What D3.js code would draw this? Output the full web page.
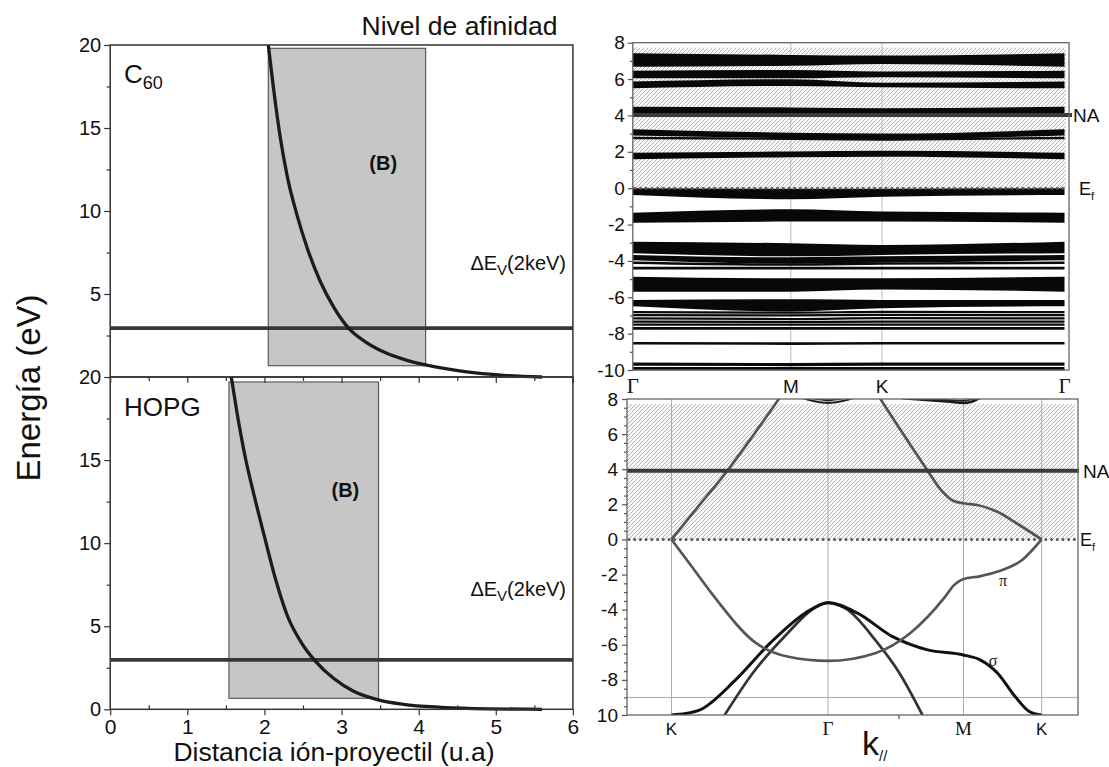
<!DOCTYPE html>
<html><head><meta charset="utf-8">
<script src="https://cdn.jsdelivr.net/npm/d3@7"></script>
<style>body{margin:0;background:#fff}svg{display:block}</style>
</head><body><svg id="c" width="1109" height="767"></svg>
<script>
// ---------------- DATA ----------------
// Left panels: distance (u.a) vs energy (eV)
const distTicks = [0,1,2,3,4,5,6];
const distMinor = [0.5,1.5,2.5,3.5,4.5,5.5];
const energyTicksTop = [5,10,15,20];
const energyTicksBottom = [0,5,10,15,20];
const energyMinor = [2.5,7.5,12.5,17.5];
const c60CurveX = [2.05,2.12,2.2,2.3,2.42,2.56,2.72,2.9,3.1,3.3,3.55,3.85,4.2,4.6,5.1,5.6];
const c60CurveE = [20,17.3,14.6,12.0,9.8,7.7,5.8,4.2,2.9,2.15,1.5,1.0,0.62,0.32,0.1,0.0];
const hopgCurveX = [1.57,1.65,1.75,1.87,2.0,2.14,2.3,2.48,2.66,2.9,3.15,3.45,3.8,4.3,4.9,5.6];
const hopgCurveE = [20,17.7,15.2,12.8,10.4,7.9,5.6,4.0,2.9,1.85,1.1,0.6,0.3,0.12,0.03,0.0];
const c60WindowX = [2.05,4.09], c60WindowE = [0.68,19.8];
const hopgWindowX = [1.54,3.48], hopgWindowE = [0.66,19.7];
const c60DeltaEv = 2.95, hopgDeltaEv = 2.97;

// Top-right: C60 bands along Γ-M-K-Γ
const c60K = [0,1,1.577,2.732];
const c60KLabels = ["Γ","M","K","Γ"];
const c60BandHi = [[7.42,7.33,7.29,7.42],[6.46,6.5,6.42,6.46],[5.86,5.99,5.8,5.86],[4.48,4.44,4.4,4.48],
  [3.24,3.05,3.0,3.24],[1.95,2.01,2.06,1.95],[0.0,-0.03,-0.03,0.0],[-1.35,-1.16,-1.29,-1.35],
  [-2.94,-3.03,-3.12,-2.94],[-3.67,-3.8,-3.75,-3.67],[-4.87,-4.96,-4.96,-4.87],[-6.15,-6.11,-6.15,-6.15]];
const c60BandLo = [[6.68,6.73,6.83,6.68],[6.04,6.04,6.1,6.04],[5.49,5.62,5.55,5.49],[3.93,3.97,4.03,3.93],
  [2.9,2.75,2.7,2.9],[1.59,1.7,1.73,1.59],[-0.37,-0.61,-0.47,-0.37],[-1.9,-1.84,-1.84,-1.9],
  [-3.58,-3.75,-3.67,-3.58],[-3.97,-4.15,-4.1,-3.97],[-5.69,-5.69,-5.57,-5.69],[-6.5,-6.78,-6.6,-6.5]];
const c60Lines = [[2.76,2.72,2.68,2.76],[-4.1,-4.2,-4.15,-4.1],[-4.4,-4.4,-4.4,-4.4],[-6.82,-6.85,-6.8,-6.82],
  [-6.98,-7.0,-6.97,-6.98],[-7.16,-7.2,-7.15,-7.16],[-7.34,-7.36,-7.34,-7.34],[-7.5,-7.5,-7.5,-7.5],
  [-7.71,-7.71,-7.71,-7.71],[-8.53,-8.55,-8.53,-8.53],[-9.68,-9.7,-9.68,-9.68],[-9.92,-9.92,-9.92,-9.92]];
const c60LineWidths = [2.4,2.4,2.6,2.2,2.2,2.2,2.2,2.2,2.8,2.6,3.2,3.2];
const c60NA = 4.03;
const c60HatchTop = 7.73;
const bandTicks = [-10,-8,-6,-4,-2,0,2,4,6,8];
const c60MinorTicks = [-9,-7,-5,-3,-1,1,3,5,7];

// Bottom-right: graphite (HOPG) bands along K-Γ-M-K
const graphK = [-1.155,0,1,1.577];
const graphKLabels = ["K","Γ","M","K"];
const graphTickLabels = ["10","-8","-6","-4","-2","0","2","4","6","8"];
const piStarLeftK = [-1.155,-0.95,-0.742,-0.55,-0.363,-0.3];
const piStarLeftE = [0,1.95,3.92,5.95,8.0,8.7];
const piStarRightK = [0.33,0.387,0.56,0.735,0.83,0.92,1.0,1.1,1.25,1.4,1.577];
const piStarRightE = [8.7,8.0,5.95,3.92,2.85,2.22,2.06,1.96,1.58,0.88,0];
const piK = [-1.155,-1.0,-0.84,-0.53,-0.3,0,0.348,0.606,0.865,0.93,1.0,1.12,1.252,1.433,1.577];
const piE = [0,-1.6,-3.26,-5.91,-6.67,-6.92,-6.48,-5.34,-3.26,-2.6,-2.25,-2.1,-1.83,-1.17,0];
const sigma1K = [-1.155,-1.05,-0.945,-0.686,-0.427,-0.169,0,0.218,0.477,0.735,1.0,1.123,1.252,1.381,1.485,1.577];
const sigma1E = [-10,-9.92,-9.71,-8.03,-5.91,-4.2,-3.6,-4.2,-5.54,-6.29,-6.58,-6.86,-7.62,-8.95,-9.8,-10];
const sigma2K = [-0.763,-0.556,-0.298,-0.117,0,0.141,0.348,0.528,0.697];
const sigma2E = [-10,-7.62,-5.34,-3.99,-3.6,-3.99,-5.72,-7.62,-10];
const upperAK = [-0.2,-0.1,0,0.1,0.2], upperAE = [8.1,7.87,7.78,7.87,8.1];
const upperBK = [-0.12,0,0.12], upperBE = [8.05,7.93,8.05];
const upperCK = [0.55,0.75,0.9,1.0,1.06,1.12], upperCE = [8.05,7.93,7.84,7.78,7.85,8.05];
const upperDK = [0.62,0.85,1.0,1.08], upperDE = [8.05,7.95,7.9,8.05];
const graphNA = 3.92;
const graphHatchTop = 7.72;
const graphGridE = -9;
const graphExtraTick = [0.52];

// ---------------- DRAW ----------------
const FONT = '"Liberation Sans", Arial, Helvetica, sans-serif';
const SERIF = '"Liberation Serif", "Times New Roman", serif';
const svg = d3.select('#c');
svg.append('rect').attr('width',1109).attr('height',767).attr('fill','#fff');
const defs = svg.append('defs');
const pat = defs.append('pattern').attr('id','hatch').attr('patternUnits','userSpaceOnUse').attr('width',4).attr('height',4);
pat.append('rect').attr('width',4).attr('height',4).attr('fill','#fafafa');
pat.append('path').attr('d','M-1,1 L1,-1 M0,4 L4,0 M3,5 L5,3').attr('stroke','#b0b0b0').attr('stroke-width',0.9);

function styleAxis(g, size, color, family){
  g.select('.domain').remove();
  g.attr('color', color||'#333').attr('font-family', family||FONT).attr('font-size', size||19);
  g.selectAll('line').attr('stroke-width',1.2);
  g.selectAll('text').attr('fill','#111');
  return g;
}

// ---- Left panels ----
const xL = d3.scaleLinear().domain([0,6]).range([110.2,572.9]);
const yTop = d3.scaleLinear().domain([0,20]).range([377,45]);
const yBot = d3.scaleLinear().domain([0,20]).range([709.3,377]);

function leftPanel(y, cx, ce, wx, we, dEv, yTicks){
  const g = svg.append('g');
  g.append('rect').attr('x',xL(wx[0])).attr('y',y(we[1])).attr('width',xL(wx[1])-xL(wx[0]))
    .attr('height',y(we[0])-y(we[1])).attr('fill','#c6c6c6').attr('stroke','#5a5a5a').attr('stroke-width',1.2);
  g.append('line').attr('x1',xL(0)).attr('x2',xL(6)).attr('y1',y(dEv)).attr('y2',y(dEv))
    .attr('stroke','#383838').attr('stroke-width',3.8);
  const pts = cx.map((x,i)=>[x,ce[i]]);
  g.append('path').datum(pts).attr('d',d3.line().x(d=>xL(d[0])).y(d=>y(d[1])).curve(d3.curveMonotoneX))
    .attr('fill','none').attr('stroke','#1c1c1c').attr('stroke-width',3.3);
  g.append('rect').attr('x',xL(0)).attr('y',y(20)).attr('width',xL(6)-xL(0)).attr('height',y(0)-y(20))
    .attr('fill','none').attr('stroke','#333').attr('stroke-width',1.5);
  styleAxis(svg.append('g').attr('transform',`translate(${xL(0)},0)`)
    .call(d3.axisLeft(y).tickValues(yTicks).tickSize(6).tickPadding(3).tickFormat(d=>String(d))), 20);
  styleAxis(svg.append('g').attr('transform',`translate(${xL(0)},0)`)
    .call(d3.axisLeft(y).tickValues(energyMinor).tickSize(3.5).tickFormat('')));
}
leftPanel(yTop, c60CurveX, c60CurveE, c60WindowX, c60WindowE, c60DeltaEv, energyTicksTop);
leftPanel(yBot, hopgCurveX, hopgCurveE, hopgWindowX, hopgWindowE, hopgDeltaEv, energyTicksBottom);
// bottom x axis
styleAxis(svg.append('g').attr('transform',`translate(0,${yBot(0)})`)
  .call(d3.axisBottom(xL).tickValues(distTicks).tickSize(6).tickPadding(4).tickFormat(d=>String(d))), 21);
styleAxis(svg.append('g').attr('transform',`translate(0,${yBot(0)})`)
  .call(d3.axisBottom(xL).tickValues(distMinor).tickSize(-4).tickFormat('')));
// mirrored ticks on the shared border
styleAxis(svg.append('g').attr('transform',`translate(0,${yBot(20)})`)
  .call(d3.axisTop(xL).tickValues(distTicks).tickSize(-6).tickFormat('')));
styleAxis(svg.append('g').attr('transform',`translate(0,${yBot(20)})`)
  .call(d3.axisTop(xL).tickValues(distMinor).tickSize(-4).tickFormat('')));

// left panel texts
const c60t = svg.append('text').attr('x',xL(0.18)).attr('y',83).attr('font-family',FONT).attr('font-size',26).attr('fill','#111').text('C');
c60t.append('tspan').attr('font-size',18).attr('dy',6).text('60');
svg.append('text').attr('x',xL(0.18)).attr('y',415.5).attr('font-family',FONT).attr('font-size',26).attr('fill','#111').text('HOPG');
svg.append('text').attr('x',xL(3.54)).attr('y',170).attr('text-anchor','middle').attr('font-family',FONT).attr('font-weight','bold').attr('font-size',20).attr('fill','#111').text('(B)');
svg.append('text').attr('x',xL(3.05)).attr('y',496.5).attr('text-anchor','middle').attr('font-family',FONT).attr('font-weight','bold').attr('font-size',20).attr('fill','#111').text('(B)');
function dEvLabel(yb){
  const t = svg.append('text').attr('x',566).attr('y',yb).attr('text-anchor','end').attr('font-family',FONT).attr('font-size',20).attr('fill','#111').text('ΔE');
  t.append('tspan').attr('font-size',15).attr('dy',5).text('V');
  t.append('tspan').attr('font-size',20).attr('dy',-5).text('(2keV)');
}
dEvLabel(270); dEvLabel(596);
svg.append('text').attr('x',459.5).attr('y',35).attr('text-anchor','middle').attr('font-family',FONT).attr('font-size',26.5).attr('fill','#111').text('Nivel de afinidad');
svg.append('text').attr('transform','translate(40,388) rotate(-90)').attr('text-anchor','middle').attr('font-family',FONT).attr('font-size',33).attr('fill','#111').text('Energía (eV)');
svg.append('text').attr('x',334).attr('y',761).attr('text-anchor','middle').attr('font-family',FONT).attr('font-size',26.5).attr('fill','#111').text('Distancia ión-proyectil (u.a)');

// ---- Top-right panel (C60) ----
const xTR = d3.scaleLinear().domain([0,2.732]).range([632.8,1064.5]);
const yTR = d3.scaleLinear().domain([-10,8]).range([370,42.7]);
const trRight = 1069;
const tr = svg.append('g');
tr.append('rect').attr('x',xTR(0)).attr('y',yTR(c60HatchTop)).attr('width',trRight-3-xTR(0))
  .attr('height',yTR(0)-yTR(c60HatchTop)).attr('fill','url(#hatch)');
[c60K[1],c60K[2]].forEach(k=>tr.append('line').attr('x1',xTR(k)).attr('x2',xTR(k)).attr('y1',yTR(8)).attr('y2',yTR(-10))
  .attr('stroke','#bdbdbd').attr('stroke-width',1));
const bandArea = d3.area().x(d=>xTR(d.k)).y0(d=>yTR(d.lo)).y1(d=>yTR(d.hi)).curve(d3.curveMonotoneX);
c60BandHi.forEach((hi,i)=>{
  const pts = c60K.map((k,j)=>({k:k,hi:hi[j],lo:c60BandLo[i][j]}));
  tr.append('path').datum(pts).attr('d',bandArea).attr('fill','#080808');
});
const bandLine = d3.line().x(d=>xTR(d[0])).y(d=>yTR(d[1])).curve(d3.curveMonotoneX);
c60Lines.forEach((l,i)=>{
  tr.append('path').datum(c60K.map((k,j)=>[k,l[j]])).attr('d',bandLine).attr('fill','none').attr('stroke','#0a0a0a').attr('stroke-width',c60LineWidths[i]);
});
tr.append('line').attr('x1',xTR(0)).attr('x2',trRight+3).attr('y1',yTR(c60NA)).attr('y2',yTR(c60NA))
  .attr('stroke','#3a3a3a').attr('stroke-width',4);
tr.append('line').attr('x1',xTR(0)+2).attr('x2',xTR(2.732)).attr('y1',yTR(0)).attr('y2',yTR(0))
  .attr('stroke','#5a5a5a').attr('stroke-width',3).attr('stroke-linecap','round').attr('stroke-dasharray','0.01 5.7');
tr.append('rect').attr('x',xTR(0)).attr('y',yTR(8)).attr('width',trRight-xTR(0)).attr('height',yTR(-10)-yTR(8))
  .attr('fill','none').attr('stroke','#666').attr('stroke-width',1.3);
styleAxis(svg.append('g').attr('transform',`translate(${xTR(0)},0)`)
  .call(d3.axisLeft(yTR).tickValues(bandTicks).tickSize(5).tickPadding(3).tickFormat(d=>String(d))), 19, '#555');
styleAxis(svg.append('g').attr('transform',`translate(${xTR(0)},0)`)
  .call(d3.axisLeft(yTR).tickValues(c60MinorTicks).tickSize(3).tickFormat('')), 19, '#555');
c60K.forEach((k,i)=>{
  svg.append('text').attr('x',xTR(k)).attr('y',393).attr('text-anchor','middle')
    .attr('font-family',c60KLabels[i]==='Γ'?SERIF:FONT).attr('font-size',c60KLabels[i]==='Γ'?21:19).attr('fill','#111').text(c60KLabels[i]);
});
svg.append('text').attr('x',trRight+4).attr('y',yTR(c60NA)+7).attr('font-family',FONT).attr('font-size',19).attr('fill','#111').text('NA');
const ef1 = svg.append('text').attr('x',trRight+10).attr('y',yTR(0)+7).attr('font-family',FONT).attr('font-size',18).attr('fill','#111').text('E');
ef1.append('tspan').attr('font-size',11).attr('dy',5).text('f');

// ---- Bottom-right panel (graphite) ----
const xBR = d3.scaleLinear().domain([0,1]).range([828,963.5]);
const yBR = d3.scaleLinear().domain([-10,8]).range([715,399]);
const brX0 = 627, brX1 = 1078;
defs.append('clipPath').attr('id','brclip').append('rect').attr('x',brX0).attr('y',yBR(8)).attr('width',brX1-brX0).attr('height',yBR(-10)-yBR(8));
const br = svg.append('g');
br.append('rect').attr('x',brX0).attr('y',yBR(graphHatchTop)).attr('width',brX1-3-brX0)
  .attr('height',yBR(0)-yBR(graphHatchTop)).attr('fill','url(#hatch)');
graphK.forEach(k=>br.append('line').attr('x1',xBR(k)).attr('x2',xBR(k)).attr('y1',yBR(8)).attr('y2',yBR(-10))
  .attr('stroke','#ababab').attr('stroke-width',1));
br.append('line').attr('x1',brX0).attr('x2',brX1).attr('y1',yBR(graphGridE)).attr('y2',yBR(graphGridE))
  .attr('stroke','#ababab').attr('stroke-width',1);
const gl = d3.line().x(d=>xBR(d[0])).y(d=>yBR(d[1])).curve(d3.curveMonotoneX);
const bands = br.append('g').attr('clip-path','url(#brclip)');
function drawBand(ks, es, color, w){
  bands.append('path').datum(ks.map((k,i)=>[k,es[i]])).attr('d',gl).attr('fill','none')
    .attr('stroke',color).attr('stroke-width',w).attr('stroke-linejoin','round');
}
drawBand(upperAK, upperAE, '#222', 2.2);
drawBand(upperBK, upperBE, '#222', 1.8);
drawBand(upperCK, upperCE, '#1a1a1a', 2.6);
drawBand(upperDK, upperDE, '#222', 1.8);
drawBand(sigma2K, sigma2E, '#333', 2.7);
drawBand(sigma1K, sigma1E, '#111', 3);
drawBand(piK, piE, '#555', 2.7);
drawBand(piStarLeftK, piStarLeftE, '#555', 2.7);
drawBand(piStarRightK, piStarRightE, '#555', 2.7);
br.append('line').attr('x1',brX0).attr('x2',brX1+1).attr('y1',yBR(graphNA)).attr('y2',yBR(graphNA))
  .attr('stroke','#3a3a3a').attr('stroke-width',4);
br.append('line').attr('x1',brX0+2).attr('x2',brX1-2).attr('y1',yBR(0)).attr('y2',yBR(0))
  .attr('stroke','#555').attr('stroke-width',3).attr('stroke-linecap','round').attr('stroke-dasharray','0.01 5.7');
br.append('rect').attr('x',brX0).attr('y',yBR(8)).attr('width',brX1-brX0).attr('height',yBR(-10)-yBR(8))
  .attr('fill','none').attr('stroke','#666').attr('stroke-width',1.3);
styleAxis(svg.append('g').attr('transform',`translate(${brX0},0)`)
  .call(d3.axisLeft(yBR).tickValues(bandTicks).tickSize(5).tickPadding(4).tickFormat((d,i)=>graphTickLabels[i])), 19, '#555');
styleAxis(svg.append('g').attr('transform',`translate(${brX0},0)`)
  .call(d3.axisLeft(yBR).tickValues(d3.range(-9.5,8,0.5).filter(v=>Math.abs(v%2)!==0)).tickSize(3).tickFormat('')), 19, '#555');
styleAxis(svg.append('g').attr('transform',`translate(0,${yBR(-10)})`)
  .call(d3.axisBottom(xBR).tickValues(graphExtraTick).tickSize(4).tickFormat('')), 19, '#555');
graphK.forEach((k,i)=>{
  const lab = graphKLabels[i];
  const serif = lab==='Γ'||lab==='M';
  svg.append('text').attr('x',xBR(k)).attr('y',735).attr('text-anchor','middle')
    .attr('font-family',serif?SERIF:FONT).attr('font-size',serif?19:17).attr('fill','#111').text(lab);
});
svg.append('text').attr('x',993).attr('y',666).attr('text-anchor','middle').attr('font-family',SERIF).attr('font-size',16).attr('fill','#222').text('σ');
svg.append('text').attr('x',1003).attr('y',586).attr('text-anchor','middle').attr('font-family',SERIF).attr('font-size',16).attr('fill','#222').text('π');
svg.append('text').attr('x',brX1+5).attr('y',yBR(graphNA)+7).attr('font-family',FONT).attr('font-size',19).attr('fill','#111').text('NA');
const ef2 = svg.append('text').attr('x',brX1+2).attr('y',yBR(0)+7).attr('font-family',FONT).attr('font-size',18).attr('fill','#111').text('E');
ef2.append('tspan').attr('font-size',11).attr('dy',5).text('f');
const kl = svg.append('text').attr('x',862).attr('y',755).attr('font-family',FONT).attr('font-size',34).attr('fill','#111').text('k');
kl.append('tspan').attr('font-size',15).attr('dy',6).text('//');
</script></body></html>
